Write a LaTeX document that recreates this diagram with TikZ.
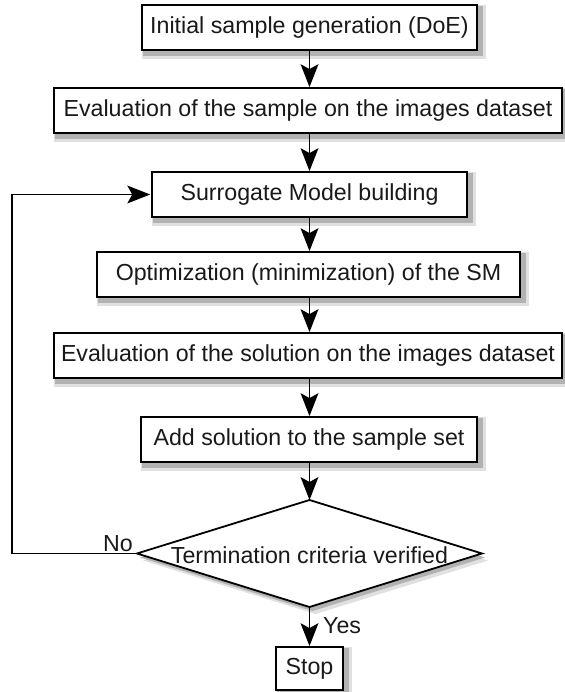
\documentclass[tikz,border=0pt]{standalone}
\usepackage{fontspec}
\setmainfont{Liberation Sans}
\usetikzlibrary{backgrounds}
\newcommand\myboxshadow[1]{%
  \begin{pgfonlayer}{background}
    \fill[black!12] ([xshift=1pt,yshift=-8pt]#1.south west) rectangle ([xshift=8pt,yshift=-1pt]#1.north east);
    \fill[black!30] ([xshift=2pt,yshift=-5pt]#1.south west) rectangle ([xshift=5pt,yshift=-2pt]#1.north east);
  \end{pgfonlayer}}
\newcommand\headdown[1]{\fill[black] (#1) -- ([shift={(-9pt,23pt)}]#1) -- ([shift={(0pt,18pt)}]#1) -- ([shift={(9pt,23pt)}]#1) -- cycle;}
\newcommand\headright[1]{\fill[black] (#1) -- ([shift={(-23pt,9pt)}]#1) -- ([shift={(-18pt,0pt)}]#1) -- ([shift={(-23pt,-9pt)}]#1) -- cycle;}
\begin{document}
\begin{tikzpicture}[x=1pt,y=-1pt,
  font=\fontsize{23.2}{27}\selectfont,
  stepbox/.style={draw=black,line width=1.8pt,fill=white,minimum height=45pt,inner sep=0pt,text=black!90},
  conn/.style={line width=1.8pt},
  lbl/.style={inner sep=0pt,text=black!90}]
\useasboundingbox (0,0) rectangle (564,692);
% boxes
\node[stepbox,minimum width=335pt] (b1) at (309.5,27.5) {Initial sample generation (DoE)};
\node[stepbox,minimum width=508pt] (b2) at (308,110.5) {Evaluation of the sample on the images dataset};
\node[stepbox,minimum width=315pt] (b3) at (309.5,194.5) {Surrogate Model building};
\node[stepbox,minimum width=423pt] (b4) at (308.5,274.5) {Optimization (minimization) of the SM};
\node[stepbox,minimum width=508pt] (b5) at (308,355.5) {Evaluation of the solution on the images dataset};
\node[stepbox,minimum width=336pt] (b6) at (309,439.5) {Add solution to the sample set};
% stop
\node[stepbox,minimum width=67pt,minimum height=43pt] (stop) at (309.5,668.5) {Stop};
\myboxshadow{b1}\myboxshadow{b2}\myboxshadow{b3}\myboxshadow{b4}\myboxshadow{b5}\myboxshadow{b6}\myboxshadow{stop}
% decision
\coordinate (dt) at (309.5,500);
\coordinate (db) at (309.5,607);
\coordinate (dl) at (137,553.5);
\coordinate (dr) at (482,553.5);
\fill[black!12] ([shift={(6pt,-7pt)}]dl) -- ([shift={(6pt,-7pt)}]dt) -- ([shift={(6pt,-7pt)}]dr) -- ([shift={(6pt,-7pt)}]db) -- cycle;
\fill[black!30] ([shift={(3pt,-4pt)}]dl) -- ([shift={(3pt,-4pt)}]dt) -- ([shift={(3pt,-4pt)}]dr) -- ([shift={(3pt,-4pt)}]db) -- cycle;
\path[draw=black,line width=1.8pt,fill=white,line join=miter] (dl) -- (dt) -- (dr) -- (db) -- cycle;
\node[lbl] (dec) at (309.5,555) {Termination criteria verified};
% connectors
\coordinate (a2) at (b2.north -| dt);
\coordinate (a3) at (b3.north -| dt);
\coordinate (a4) at (b4.north -| dt);
\coordinate (a5) at (b5.north -| dt);
\coordinate (a6) at (b6.north -| dt);
\coordinate (a7) at (stop.north -| db);
\draw[conn] (b1.south -| dt) -- ([yshift=10pt]a2); \headdown{a2}
\draw[conn] (b2.south -| dt) -- ([yshift=10pt]a3); \headdown{a3}
\draw[conn] (b3.south -| dt) -- ([yshift=10pt]a4); \headdown{a4}
\draw[conn] (b4.south -| dt) -- ([yshift=10pt]a5); \headdown{a5}
\draw[conn] (b5.south -| dt) -- ([yshift=10pt]a6); \headdown{a6}
\draw[conn] (b6.south -| dt) -- ([yshift=10pt]dt); \headdown{dt}
\draw[conn] (db) -- ([yshift=10pt]a7); \headdown{a7}
\coordinate (loopx) at (12,0);
\coordinate (a8) at ([xshift=-0.9pt]b3.west);
\draw[conn] (dl) -- (dl -| loopx) |- ([xshift=-10pt]a8); \headright{a8}
% labels
\node[lbl,anchor=base east] (no) at ([xshift=-4pt,yshift=2pt]dl) {No};
\node[lbl,anchor=base west] (yes) at ([xshift=13.5pt,yshift=-26pt]db) {Yes};
\end{tikzpicture}
\end{document}
